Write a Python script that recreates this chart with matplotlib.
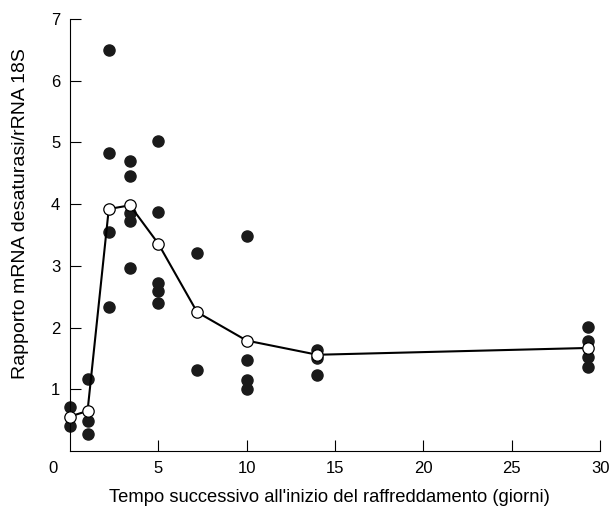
import numpy as np
import matplotlib
matplotlib.use("Agg")
import matplotlib.pyplot as plt

plt.rcParams['font.family'] = ['Liberation Sans', 'DejaVu Sans']

# individual measurements (filled circles)
days_pts = [0, 0,
            1, 1, 1,
            2.2, 2.2, 2.2, 2.2,
            3.4, 3.4, 3.4, 3.4, 3.4,
            5, 5, 5, 5, 5,
            7.2, 7.2,
            10, 10, 10, 10,
            14, 14, 14,
            29.3, 29.3, 29.3, 29.3]
ratio_pts = [0.72, 0.40,
             1.16, 0.49, 0.28,
             6.50, 4.82, 3.55, 2.33,
             4.69, 4.46, 3.85, 3.72, 2.96,
             5.02, 3.87, 2.73, 2.59, 2.40,
             3.21, 1.31,
             3.48, 1.48, 1.15, 1.00,
             1.64, 1.50, 1.24,
             2.01, 1.79, 1.52, 1.36]

# mean values (open circles joined by line)
days_mean = [0, 1, 2.2, 3.4, 5, 7.2, 10, 14, 29.3]
ratio_mean = [0.56, 0.65, 3.92, 3.98, 3.36, 2.25, 1.79, 1.56, 1.67]

fig = plt.figure(figsize=(6.13, 5.08), dpi=100)
ax = fig.add_axes([0.114, 0.112, 0.865, 0.851])

ax.plot(days_pts, ratio_pts, 'o', color='#1a1a1a', markersize=8, zorder=2, clip_on=False)
ax.plot(days_mean, ratio_mean, '-', color='black', linewidth=1.5, zorder=3, clip_on=False)
ax.plot(days_mean, ratio_mean, 'o', markerfacecolor='white', markeredgecolor='black',
        markeredgewidth=0.9, markersize=8.2, zorder=4, clip_on=False)

ax.set_xlim(0, 30)
ax.set_ylim(0, 7)
ax.set_xticks([5, 10, 15, 20, 25, 30])
ax.set_yticks([1, 2, 3, 4, 5, 6, 7])
ax.tick_params(direction='in', length=8, width=0.8, pad=7, labelsize=12)
ax.annotate('0', xy=(0, 0), xycoords='data', xytext=(-12, -7), textcoords='offset points',
            ha='center', va='top', fontsize=12)

for side in ['top', 'right']:
    ax.spines[side].set_visible(False)
for side in ['left', 'bottom']:
    ax.spines[side].set_linewidth(0.8)

ax.set_xlabel("Tempo successivo all'inizio del raffreddamento (giorni)", fontsize=13.2)
ax.set_ylabel("Rapporto mRNA desaturasi/rRNA 18S", fontsize=14)
ax.xaxis.set_label_coords(0.49, -0.108)
ax.yaxis.set_label_coords(-0.094, 0.549)
ax.xaxis.label.set_va('center')
ax.yaxis.label.set_va('center')

fig.savefig("out.png", dpi=100)
